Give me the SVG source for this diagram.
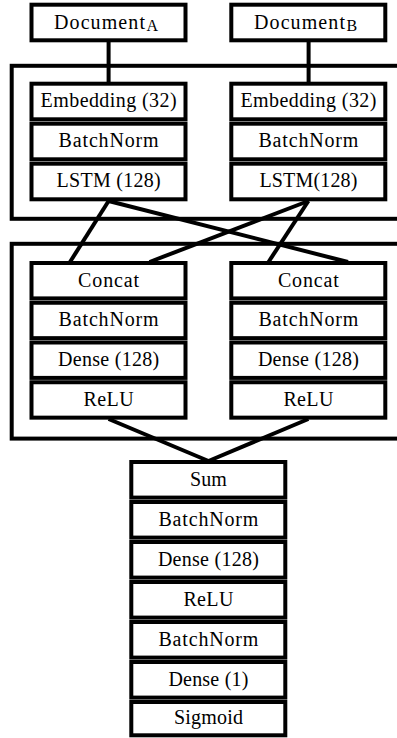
<svg xmlns="http://www.w3.org/2000/svg" width="397" height="738" viewBox="0 0 397 738">
  <style>
    .box { fill: #fff; stroke: #000; stroke-width: 4; }
    .group { fill: none; stroke: #000; stroke-width: 4; }
    .edge { fill: none; stroke: #000; stroke-width: 4; stroke-linecap: butt; }
    text { font-size: 20px; fill: #000; text-anchor: middle; }
    .sub { font-size: 16px; text-anchor: start; }
  </style>
  <rect width="397" height="738" fill="#fff"/>

  <!-- encoder and pair blocks (extend past the right edge) -->
  <g id="groups">
    <rect class="group" x="11.7" y="65.8" width="400" height="153"/>
    <rect class="group" x="11.7" y="243.8" width="400" height="194.8"/>
  </g>

  <g id="connectors">
    <line class="edge" x1="108.6" y1="40" x2="108.6" y2="84"/>
    <line class="edge" x1="308.6" y1="40" x2="308.6" y2="84"/>
    <line class="edge" x1="108.6" y1="201" x2="70" y2="262"/>
    <line class="edge" x1="108.6" y1="201" x2="348" y2="262"/>
    <line class="edge" x1="308.4" y1="201" x2="149.5" y2="262"/>
    <line class="edge" x1="308.4" y1="201" x2="268.5" y2="262"/>
    <line class="edge" x1="108.6" y1="419" x2="208.5" y2="461"/>
    <line class="edge" x1="308.4" y1="419" x2="208.5" y2="461"/>
  </g>

  <g font-family="'Liberation Serif', 'DejaVu Serif', serif">
  <!-- inputs -->
  <g id="docA">
    <rect class="box" x="31.5" y="4.7" width="154" height="35.6"/>
    <text y="28.5"><tspan x="54" style="text-anchor:start" textLength="91" lengthAdjust="spacing">Document</tspan><tspan class="sub" x="146.5" y="31">A</tspan></text>
  </g>
  <g id="docB">
    <rect class="box" x="231.3" y="4.7" width="154" height="35.6"/>
    <text y="28.5"><tspan x="254" style="text-anchor:start" textLength="91" lengthAdjust="spacing">Document</tspan><tspan class="sub" x="346.5" y="31">B</tspan></text>
  </g>

  <!-- encoder A -->
  <g id="encA">
    <g id="embA"><rect class="box" x="31.5" y="83.7" width="154" height="35.6"/><text x="108.6" y="107" textLength="136" lengthAdjust="spacing">Embedding (32)</text></g>
    <g id="bnA"><rect class="box" x="31.5" y="123.7" width="154" height="35.6"/><text x="108.6" y="147" textLength="100" lengthAdjust="spacing">BatchNorm</text></g>
    <g id="lstmA"><rect class="box" x="31.5" y="163.7" width="154" height="35.6"/><text x="108.6" y="187" textLength="104" lengthAdjust="spacing">LSTM (128)</text></g>
  </g>

  <!-- encoder B -->
  <g id="encB">
    <g id="embB"><rect class="box" x="231.3" y="83.7" width="154" height="35.6"/><text x="308.4" y="107" textLength="136" lengthAdjust="spacing">Embedding (32)</text></g>
    <g id="bnB"><rect class="box" x="231.3" y="123.7" width="154" height="35.6"/><text x="308.4" y="147" textLength="100" lengthAdjust="spacing">BatchNorm</text></g>
    <g id="lstmB"><rect class="box" x="231.3" y="163.7" width="154" height="35.6"/><text x="308.4" y="187" textLength="98" lengthAdjust="spacing">LSTM(128)</text></g>
  </g>

  <!-- pair branch A -->
  <g id="pairA">
    <g id="concatA"><rect class="box" x="31.5" y="263" width="154" height="35.4"/><text x="108.6" y="286.5" textLength="61" lengthAdjust="spacing">Concat</text></g>
    <g id="bnPA"><rect class="box" x="31.5" y="302.75" width="154" height="35.4"/><text x="108.6" y="326.25" textLength="100" lengthAdjust="spacing">BatchNorm</text></g>
    <g id="denseA"><rect class="box" x="31.5" y="342.5" width="154" height="35.4"/><text x="108.6" y="366" textLength="101" lengthAdjust="spacing">Dense (128)</text></g>
    <g id="reluA"><rect class="box" x="31.5" y="382.25" width="154" height="35.4"/><text x="108.6" y="405.75" textLength="50" lengthAdjust="spacing">ReLU</text></g>
  </g>

  <!-- pair branch B -->
  <g id="pairB">
    <g id="concatB"><rect class="box" x="231.3" y="263" width="154" height="35.4"/><text x="308.4" y="286.5" textLength="61" lengthAdjust="spacing">Concat</text></g>
    <g id="bnPB"><rect class="box" x="231.3" y="302.75" width="154" height="35.4"/><text x="308.4" y="326.25" textLength="100" lengthAdjust="spacing">BatchNorm</text></g>
    <g id="denseB"><rect class="box" x="231.3" y="342.5" width="154" height="35.4"/><text x="308.4" y="366" textLength="101" lengthAdjust="spacing">Dense (128)</text></g>
    <g id="reluB"><rect class="box" x="231.3" y="382.25" width="154" height="35.4"/><text x="308.4" y="405.75" textLength="50" lengthAdjust="spacing">ReLU</text></g>
  </g>

  <!-- head -->
  <g id="head">
    <g id="sum"><rect class="box" x="131.3" y="462" width="154" height="35.6"/><text x="208.4" y="485.5" textLength="37" lengthAdjust="spacing">Sum</text></g>
    <g id="bnH1"><rect class="box" x="131.3" y="502" width="154" height="35.6"/><text x="208.4" y="525.5" textLength="100" lengthAdjust="spacing">BatchNorm</text></g>
    <g id="denseH1"><rect class="box" x="131.3" y="542" width="154" height="35.6"/><text x="208.4" y="565.5" textLength="101" lengthAdjust="spacing">Dense (128)</text></g>
    <g id="reluH"><rect class="box" x="131.3" y="582" width="154" height="35.6"/><text x="208.4" y="605.5" textLength="50" lengthAdjust="spacing">ReLU</text></g>
    <g id="bnH2"><rect class="box" x="131.3" y="622" width="154" height="35.6"/><text x="208.4" y="645.5" textLength="100" lengthAdjust="spacing">BatchNorm</text></g>
    <g id="denseH2"><rect class="box" x="131.3" y="662" width="154" height="35.6"/><text x="208.4" y="685.5" textLength="80" lengthAdjust="spacing">Dense (1)</text></g>
    <g id="sigmoid"><rect class="box" x="131.3" y="702" width="154" height="33.3"/><text x="208.4" y="724" textLength="69" lengthAdjust="spacing">Sigmoid</text></g>
  </g>
  </g>
</svg>
